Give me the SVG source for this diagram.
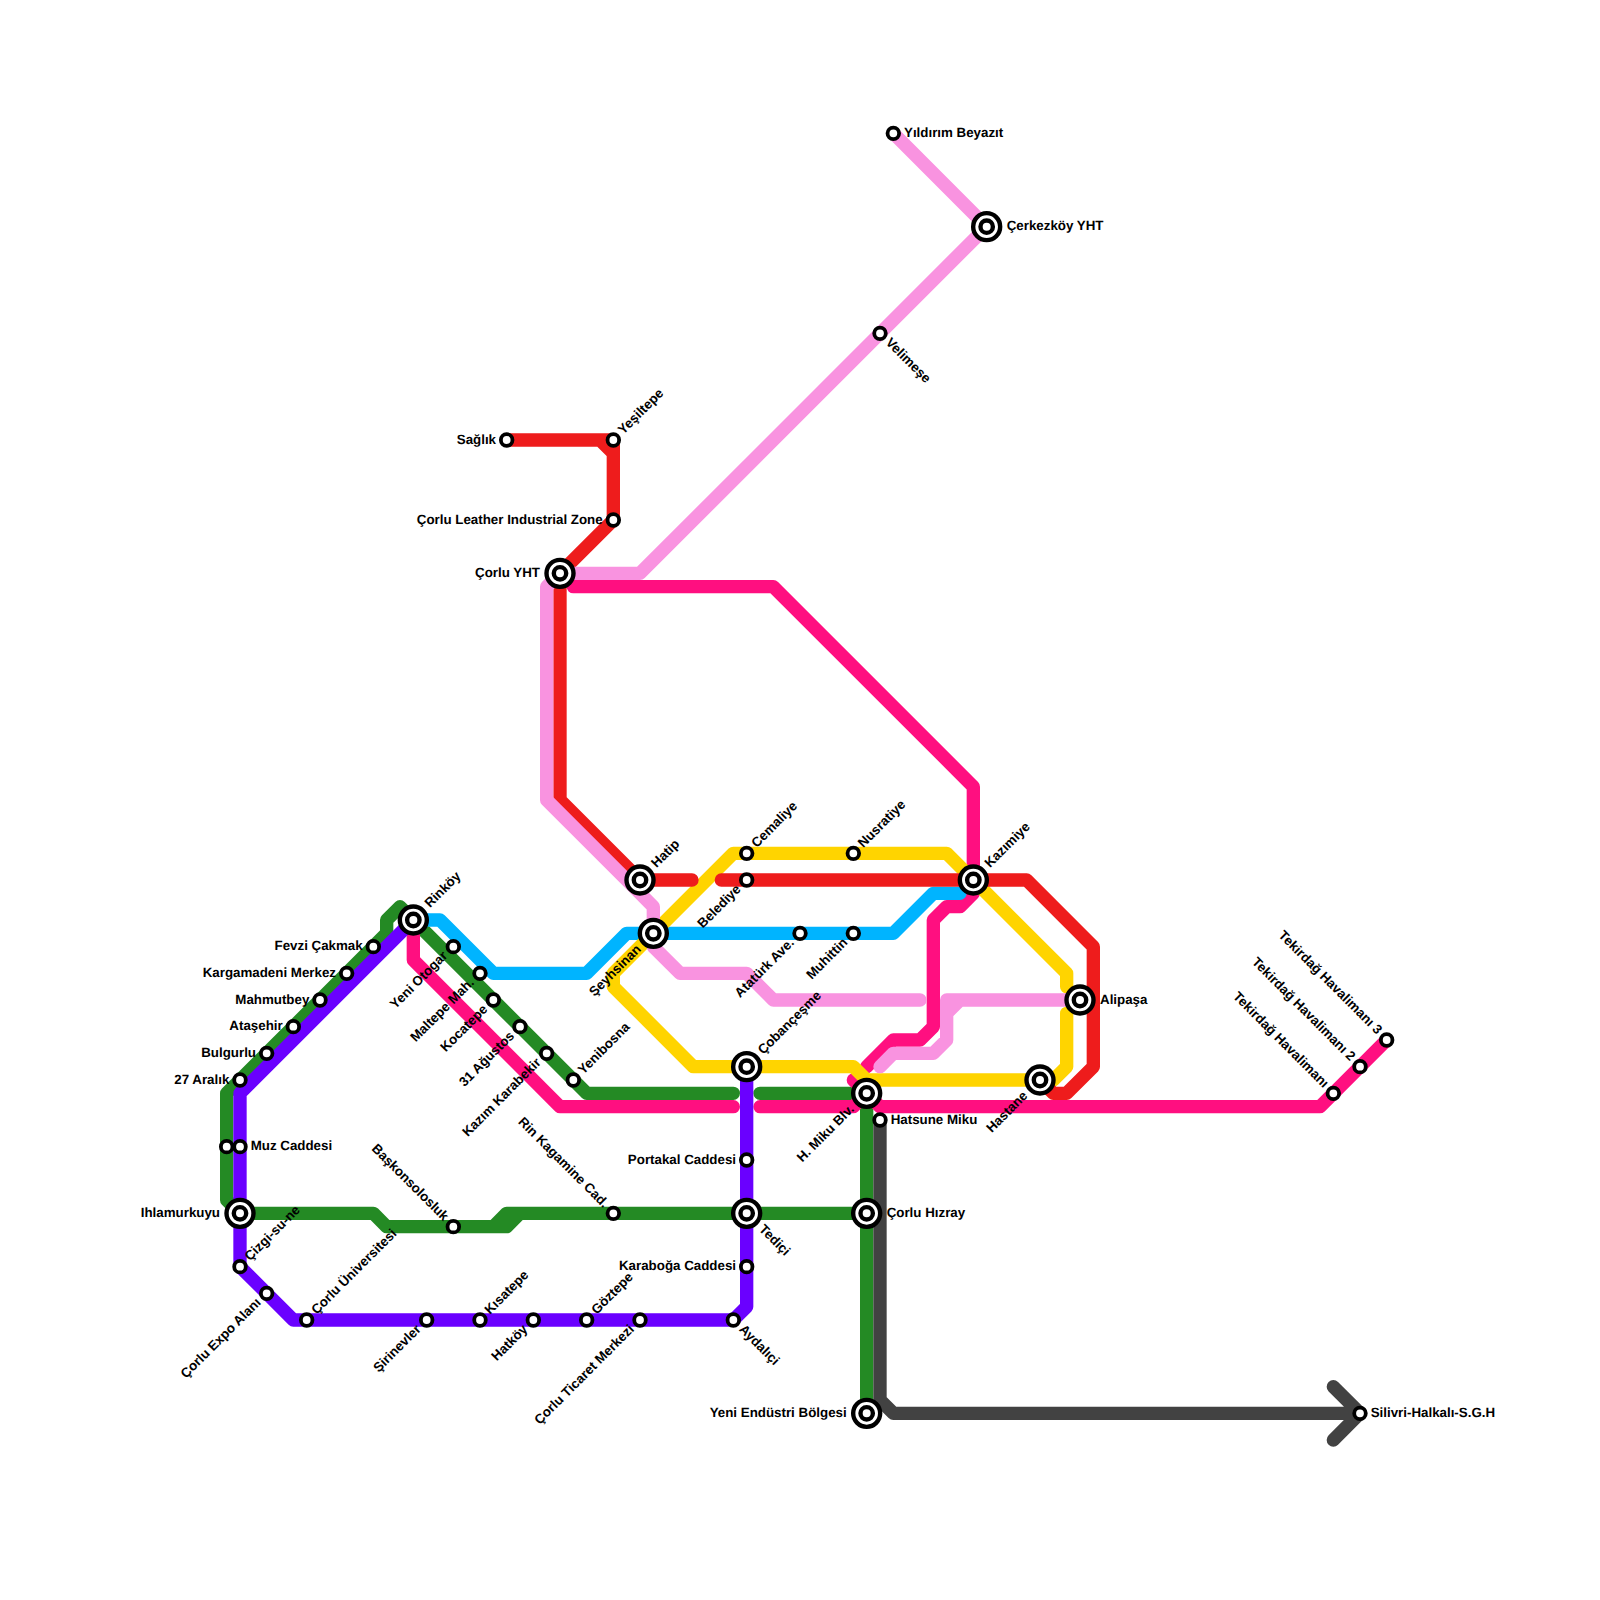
<svg xmlns="http://www.w3.org/2000/svg" width="1600" height="1600" viewBox="0 0 1600 1600">
<style>
.ln{fill:none;stroke-width:1;stroke-linecap:round;stroke-linejoin:round}
.s{fill:#fff;stroke:#000;stroke-width:3.8}
.i{fill:#fff;stroke:#000;stroke-width:4.4}
text{font-family:"Liberation Sans",Arial,sans-serif;font-weight:700;font-size:13.33px;fill:#000;dominant-baseline:central;text-rendering:geometricPrecision}
.e{text-anchor:end}
.up{transform:rotate(-45deg)}
.dn{transform:rotate(45deg)}
</style>
<defs>
<circle id="st" class="s" r="5.8"/>
<g id="ic"><circle class="i" r="13.5"/><circle class="i" r="6.2"/></g>
</defs>
<rect width="1600" height="1600" fill="#fff"/>
<g id="connectors" transform="scale(13.33333)">
<path id="line-green" class="ln" stroke="#248A24" d="M55 82H44L31 69L30 68L29 69V70L18 81L17 82V90L18 91H28L29 92H38L39 91H65M37 92L38 91H39M57 82H65M65 82V106"/>
<path id="line-magenta" class="ln" stroke="#FF0F80" d="M31 69V72L42 83H55M57 83H64L65 82L64 81M65 82L66 83H99L104 78M43 44H58L73 59V67L72 68H71L70 69V77L69 78H67L65 80"/>
<path id="line-blue" class="ln" stroke="#00B4FF" d="M31 69H33L37 73H44L47 70H67L70 67H72"/>
<path id="line-yellow" class="ln" stroke="#FFD400" d="M80 74V73L71 64H55L46 73V74L52 80H64L65 81H79L80 80V76"/>
<path id="line-red" class="ln" stroke="#EE1C1C" d="M38 33H45L46 34V39L42 43V60L48 66H51.9M45 33H46V34M54.1 66H77L82 71V80L80 82H79L78 81"/>
<path id="line-pink" class="ln" stroke="#F993E0" d="M67 10L74 17L48 43H42L41 44V60L48 67L49 68V71L51 73H56L58 75H69M81 75H72L71 76V78L70 79H67L66 80M71 75H72M71 75V76"/>
<path id="line-purple" class="ln" stroke="#6A00FF" d="M31 69L18 82V95L22 99H55L56 98V80"/>
<path id="line-gray" class="ln" stroke="#424242" d="M66 84V105L67 106H102M100 104L102 106L100 108"/>
</g>
<g id="n-yildirim" transform="translate(893.33 133.33)"><use href="#st"/><text x="10.67" y="-1">Yıldırım Beyazıt</text></g>
<g id="n-cerkezkoy" transform="translate(986.67 226.67)"><use href="#ic"/><text x="20" y="-1">Çerkezköy YHT</text></g>
<g id="n-velimese" transform="translate(880 333.33)"><use href="#st"/><text class="dn" x="10.67" y="-1">Velimeşe</text></g>
<g id="n-saglik" transform="translate(506.67 440)"><use href="#st"/><text class="e" x="-10.67" y="-1">Sağlık</text></g>
<g id="n-yesiltepe" transform="translate(613.33 440)"><use href="#st"/><text class="up" x="10.67" y="-1">Yeşiltepe</text></g>
<g id="n-leather" transform="translate(613.33 520)"><use href="#st"/><text class="e" x="-10.67" y="-1">Çorlu Leather Industrial Zone</text></g>
<g id="n-corluyht" transform="translate(560 573.33)"><use href="#ic"/><text class="e" x="-20" y="-1">Çorlu YHT</text></g>
<g id="n-cemaliye" transform="translate(746.67 853.33)"><use href="#st"/><text class="up" x="10.67" y="-1">Cemaliye</text></g>
<g id="n-nusratiye" transform="translate(853.33 853.33)"><use href="#st"/><text class="up" x="10.67" y="-1">Nusratiye</text></g>
<g id="n-hatip" transform="translate(640 880)"><use href="#ic"/><text class="up" x="20" y="-1">Hatip</text></g>
<g id="n-belediye" transform="translate(746.67 880)"><use href="#st"/><text class="up e" x="-10.67" y="-1">Belediye</text></g>
<g id="n-kazimiye" transform="translate(973.33 880)"><use href="#ic"/><text class="up" x="20" y="-1">Kazımiye</text></g>
<g id="n-rinkoy" transform="translate(413.33 920)"><use href="#ic"/><text class="up" x="20" y="-1">Rinköy</text></g>
<g id="n-seyhsinan" transform="translate(653.33 933.33)"><use href="#ic"/><text class="up e" x="-20" y="-1">Şeyhsinan</text></g>
<g id="n-ataturk" transform="translate(800 933.33)"><use href="#st"/><text class="up e" x="-10.67" y="-1">Atatürk Ave.</text></g>
<g id="n-muhittin" transform="translate(853.33 933.33)"><use href="#st"/><text class="up e" x="-10.67" y="-1">Muhittin</text></g>
<g id="n-fevzi" transform="translate(373.33 946.67)"><use href="#st"/><text class="e" x="-10.67" y="-1">Fevzi Çakmak</text></g>
<g id="n-kargamadeni" transform="translate(346.67 973.33)"><use href="#st"/><text class="e" x="-10.67" y="-1">Kargamadeni Merkez</text></g>
<g id="n-mahmutbey" transform="translate(320 1000)"><use href="#st"/><text class="e" x="-10.67" y="-1">Mahmutbey</text></g>
<g id="n-atasehir" transform="translate(293.33 1026.67)"><use href="#st"/><text class="e" x="-10.67" y="-1">Ataşehir</text></g>
<g id="n-bulgurlu" transform="translate(266.67 1053.33)"><use href="#st"/><text class="e" x="-10.67" y="-1">Bulgurlu</text></g>
<g id="n-27aralik" transform="translate(240 1080)"><use href="#st"/><text class="e" x="-10.67" y="-1">27 Aralık</text></g>
<g id="n-yeniotogar" transform="translate(453.33 946.67)"><use href="#st"/><text class="up e" x="-10.67" y="-1">Yeni Otogar</text></g>
<g id="n-maltepe" transform="translate(480 973.33)"><use href="#st"/><text class="up e" x="-10.67" y="-1">Maltepe Mah.</text></g>
<g id="n-kocatepe" transform="translate(493.33 1000)"><use href="#st"/><text class="up e" x="-10.67" y="-1">Kocatepe</text></g>
<g id="n-31agustos" transform="translate(520 1026.67)"><use href="#st"/><text class="up e" x="-10.67" y="-1">31 Ağustos</text></g>
<g id="n-kazimk" transform="translate(546.67 1053.33)"><use href="#st"/><text class="up e" x="-10.67" y="-1">Kazım Karabekir</text></g>
<g id="n-yenibosna" transform="translate(573.33 1080)"><use href="#st"/><text class="up" x="10.67" y="-1">Yenibosna</text></g>
<g id="n-alipasa" transform="translate(1080 1000)"><use href="#ic"/><text x="20" y="-1">Alipaşa</text></g>
<g id="n-cobancesme" transform="translate(746.67 1066.67)"><use href="#ic"/><text class="up" x="20" y="-1">Çobançeşme</text></g>
<g id="n-hastane" transform="translate(1040 1080)"><use href="#ic"/><text class="up e" x="-20" y="-1">Hastane</text></g>
<g id="n-hmiku" transform="translate(866.67 1093.33)"><use href="#ic"/><text class="up e" x="-20" y="-1">H. Miku Blv.</text></g>
<g id="n-hatsune" transform="translate(880 1120)"><use href="#st"/><text x="10.67" y="-1">Hatsune Miku</text></g>
<g id="n-muz2" transform="translate(226.67 1146.67)"><use href="#st"/></g>
<g id="n-muz" transform="translate(240 1146.67)"><use href="#st"/><text x="10.67" y="-1">Muz Caddesi</text></g>
<g id="n-portakal" transform="translate(746.67 1160)"><use href="#st"/><text class="e" x="-10.67" y="-1">Portakal Caddesi</text></g>
<g id="n-ihlamurkuyu" transform="translate(240 1213.33)"><use href="#ic"/><text class="e" x="-20" y="-1">Ihlamurkuyu</text></g>
<g id="n-rin" transform="translate(613.33 1213.33)"><use href="#st"/><text class="dn e" x="-10.67" y="-1">Rin Kagamine Cad.</text></g>
<g id="n-tedici" transform="translate(746.67 1213.33)"><use href="#ic"/><text class="dn" x="20" y="-1">Tediçi</text></g>
<g id="n-hizray" transform="translate(866.67 1213.33)"><use href="#ic"/><text x="20" y="-1">Çorlu Hızray</text></g>
<g id="n-baskons" transform="translate(453.33 1226.67)"><use href="#st"/><text class="dn e" x="-10.67" y="-1">Başkonsolosluk</text></g>
<g id="n-cizgi" transform="translate(240 1266.67)"><use href="#st"/><text class="up" x="10.67" y="-1">Çizgi-su-ne</text></g>
<g id="n-karaboga" transform="translate(746.67 1266.67)"><use href="#st"/><text class="e" x="-10.67" y="-1">Karaboğa Caddesi</text></g>
<g id="n-expo" transform="translate(266.67 1293.33)"><use href="#st"/><text class="up e" x="-10.67" y="-1">Çorlu Expo Alanı</text></g>
<g id="n-univ" transform="translate(306.67 1320)"><use href="#st"/><text class="up" x="10.67" y="-1">Çorlu Üniversitesi</text></g>
<g id="n-sirinevler" transform="translate(426.67 1320)"><use href="#st"/><text class="up e" x="-10.67" y="-1">Şirinevler</text></g>
<g id="n-kisatepe" transform="translate(480 1320)"><use href="#st"/><text class="up" x="10.67" y="-1">Kısatepe</text></g>
<g id="n-hatkoy" transform="translate(533.33 1320)"><use href="#st"/><text class="up e" x="-10.67" y="-1">Hatköy</text></g>
<g id="n-goztepe" transform="translate(586.67 1320)"><use href="#st"/><text class="up" x="10.67" y="-1">Göztepe</text></g>
<g id="n-ticaret" transform="translate(640 1320)"><use href="#st"/><text class="up e" x="-10.67" y="-1">Çorlu Ticaret Merkezi</text></g>
<g id="n-aydalici" transform="translate(733.33 1320)"><use href="#st"/><text class="dn" x="10.67" y="-1">Aydalıçi</text></g>
<g id="n-tek1" transform="translate(1333.33 1093.33)"><use href="#st"/><text class="dn e" x="-10.67" y="-1">Tekirdağ Havalimanı</text></g>
<g id="n-tek2" transform="translate(1360 1066.67)"><use href="#st"/><text class="dn e" x="-10.67" y="-1">Tekirdağ Havalimanı 2</text></g>
<g id="n-tek3" transform="translate(1386.67 1040)"><use href="#st"/><text class="dn e" x="-10.67" y="-1">Tekirdağ Havalimanı 3</text></g>
<g id="n-yeniendustri" transform="translate(866.67 1413.33)"><use href="#ic"/><text class="e" x="-20" y="-1">Yeni Endüstri Bölgesi</text></g>
<g id="n-silivri" transform="translate(1360 1413.33)"><use href="#st"/><text x="10.67" y="-1">Silivri-Halkalı-S.G.H</text></g>
</svg>
